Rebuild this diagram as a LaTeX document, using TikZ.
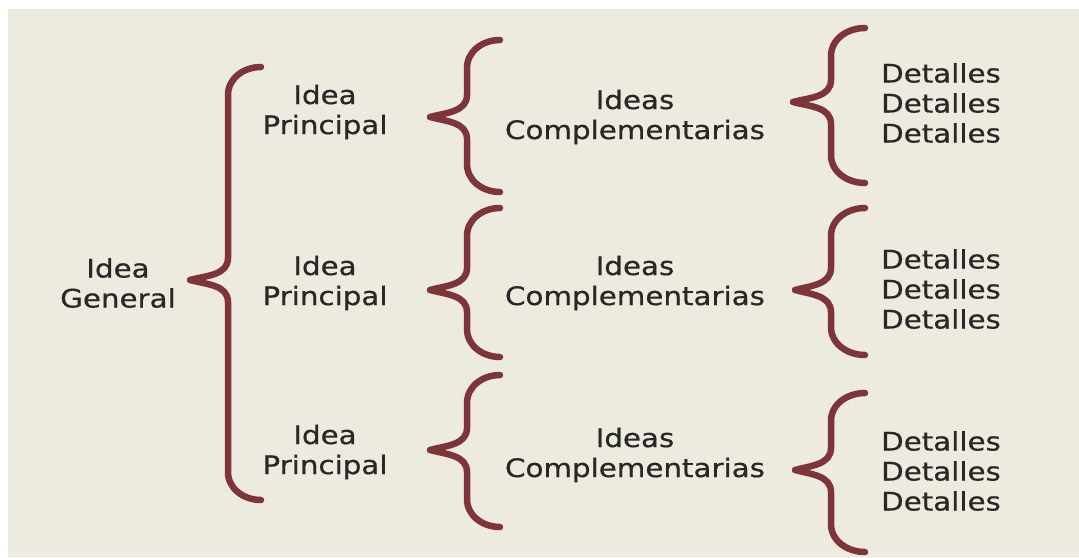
\documentclass[tikz,border=0pt]{standalone}
\usepackage{fontspec}
\setmainfont{DejaVu Sans}[FakeStretch=1.15,FakeBold=0.6]
\definecolor{bg}{HTML}{EDEAE0}
\definecolor{br}{HTML}{7D3539}
\definecolor{tx}{HTML}{282828}
\begin{document}
\begin{tikzpicture}[x=1pt,y=-1pt,
  lbl/.style={inner sep=0pt,align=center,text=tx,font=\fontsize{25.5}{30}\selectfont},
  bracepath/.style={draw=br,line width=6.5pt,line cap=round,line join=round}]
\useasboundingbox (0,0) rectangle (1079,557);
\fill[white] (0,0) rectangle (1079,557);
\fill[bg] (8,9) rectangle (1079,557);
% brace macro: #1 end x, #2 vertical x, #3 tip x, #4 top y, #5 mid y, #6 bottom y
\newcommand\mybrace[6]{%
  \draw[bracepath] (#1,#4) to[out=180,in=90] (#2,#4+28) -- (#2,#5-22)
     to[out=270,in=15] (#3,#5) to[out=-15,in=90] (#2,#5+22) -- (#2,#6-28)
     to[out=270,in=180] (#1,#6);}
% level 1
\mybrace{261}{228}{190}{67}{280}{500}
% level 2
\mybrace{500}{467}{430}{40}{117}{192}
\mybrace{500}{467}{430}{208}{290}{357}
\mybrace{500}{467}{430}{375}{450}{527}
% level 3
\mybrace{865}{831}{793}{28}{102}{183}
\mybrace{865}{831}{795}{208}{290}{355}
\mybrace{865}{831}{795}{393}{470}{552}
% texts
\node[lbl] (gen) at (118,283) {Idea\\General};
\node[lbl] (p1) at (325,112) {Idea\\Principal};
\node[lbl] (p2) at (325,283) {Idea\\Principal};
\node[lbl] (p3) at (325,452) {Idea\\Principal};
\node[lbl] (c1) at (635,117) {Ideas\\Complementarias};
\node[lbl] (c2) at (635,283) {Ideas\\Complementarias};
\node[lbl] (c3) at (635,455) {Ideas\\Complementarias};
\node[lbl] (d1) at (941,103) {Detalles\\Detalles\\Detalles};
\node[lbl] (d2) at (941,289) {Detalles\\Detalles\\Detalles};
\node[lbl] (d3) at (941,471) {Detalles\\Detalles\\Detalles};
\end{tikzpicture}
\end{document}
